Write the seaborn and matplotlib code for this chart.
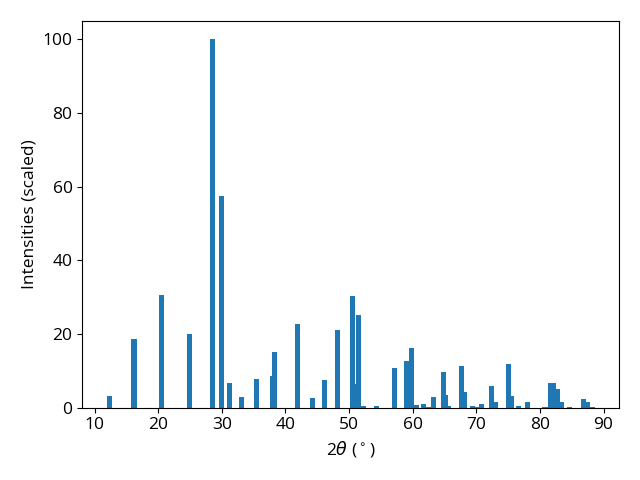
import numpy as np
import matplotlib
matplotlib.use("Agg")
import matplotlib.pyplot as plt
import seaborn as sns

# peak positions (2theta, degrees) and scaled intensities
two_theta = [12.3, 16.2, 20.5, 24.9, 28.5, 29.9, 31.2, 33.1, 35.4,
             38.0, 38.3, 41.9, 44.3, 46.1, 48.2, 50.55, 50.95, 51.5, 52.3,
             54.3, 57.2, 59.05, 59.8, 60.6, 61.7, 62.5, 63.3,
             64.9, 65.2, 65.7, 67.7, 68.2, 69.4, 70.0, 70.8, 72.4, 73.0,
             75.0, 75.1, 75.6, 76.7, 78.1, 80.8, 81.6, 82.2, 82.7, 83.4,
             84.6, 86.9, 87.4, 88.2]
intensity = [3.3, 18.7, 30.7, 20.1, 100.0, 57.5, 6.8, 3.0, 7.9,
             8.7, 15.0, 22.6, 2.7, 7.6, 21.0, 30.2, 6.5, 25.3, 0.5,
             0.5, 10.9, 12.8, 16.3, 0.8, 1.1, 0.3, 3.0,
             9.8, 3.5, 0.5, 11.4, 4.3, 0.5, 0.3, 1.1, 6.0, 1.6,
             12.0, 4.3, 3.3, 0.5, 1.6, 0.3, 6.8, 6.8, 5.2, 1.6,
             0.3, 2.4, 1.6, 0.3]

plt.style.use('default')
plt.rcParams['font.family'] = ['Open Sans', 'DejaVu Sans']
plt.rcParams['font.size'] = 12.5
plt.rcParams['xtick.labelsize'] = 12.5
plt.rcParams['ytick.labelsize'] = 12.5
plt.rcParams['axes.labelsize'] = 12.5

color = sns.color_palette("tab10")[0]

fig, ax = plt.subplots(figsize=(6.4, 4.8), dpi=100)
ax.bar(two_theta, intensity, width=0.8, color=color)
ax.set_xlabel(r'2$\theta$ ($^\circ$)')
ax.set_ylabel('Intensities (scaled)')
fig.tight_layout(pad=1.21)
fig.savefig("out.png", dpi=100)
